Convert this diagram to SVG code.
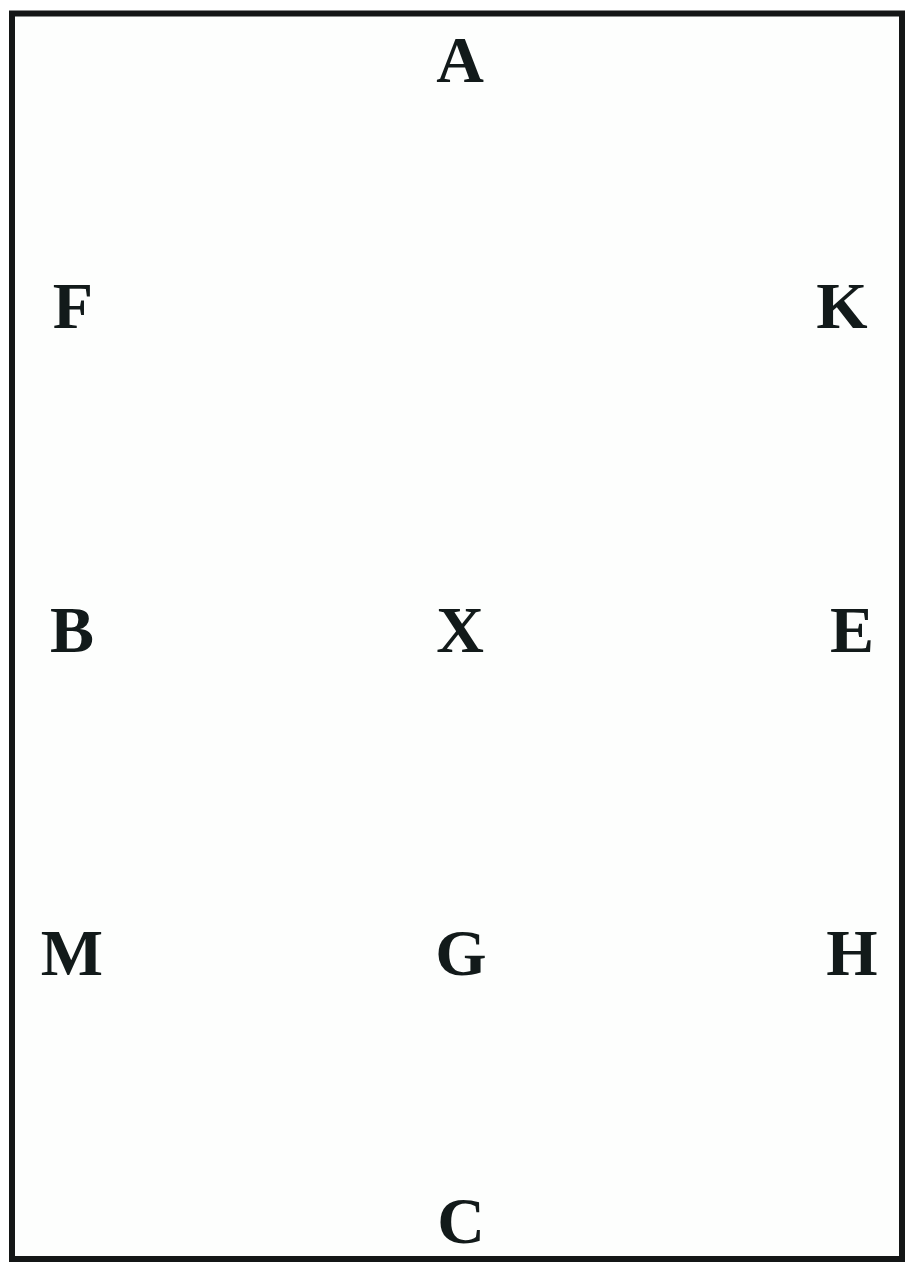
<svg xmlns="http://www.w3.org/2000/svg" width="908" height="1263" viewBox="0 0 908 1263">
  <style>
    .lbl { font-family: "Liberation Serif", "Times New Roman", serif; font-weight: bold; font-size: 66px; fill: #121a1a; text-anchor: middle; }
  </style>
  <rect x="0" y="0" width="908" height="1263" fill="#ffffff"/>
  <rect id="arena" x="12" y="13.5" width="890" height="1245.5" fill="#fdfefd" stroke="#141616" stroke-width="6"/>
  <g id="connectors"></g>
  <g id="A"><text class="lbl" x="460" y="82">A</text></g>
  <g id="F"><text class="lbl" x="73" y="328">F</text></g>
  <g id="K"><text class="lbl" x="842" y="328">K</text></g>
  <g id="B"><text class="lbl" x="72" y="652">B</text></g>
  <g id="X"><text class="lbl" x="460" y="652">X</text></g>
  <g id="E"><text class="lbl" x="852" y="652">E</text></g>
  <g id="M"><text class="lbl" x="72" y="975">M</text></g>
  <g id="G"><text class="lbl" x="461" y="975">G</text></g>
  <g id="H"><text class="lbl" x="852" y="975">H</text></g>
  <g id="C"><text class="lbl" x="461" y="1243">C</text></g>
</svg>
